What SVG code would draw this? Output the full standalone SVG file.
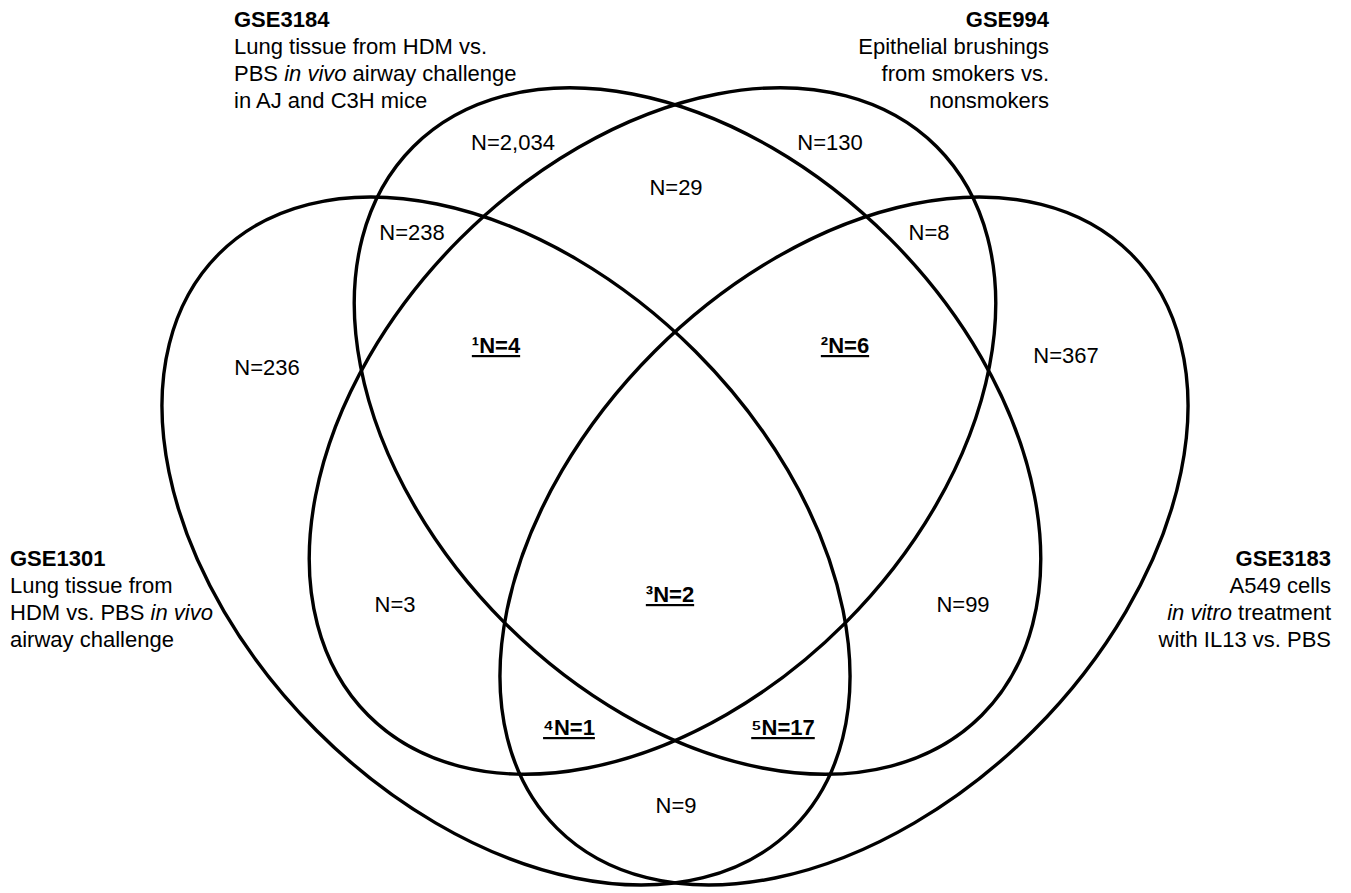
<svg xmlns="http://www.w3.org/2000/svg" width="1351" height="893" viewBox="0 0 1351 893">
<style>
.set{fill:none;stroke:#000;stroke-width:3.4}
text{font-family:"Liberation Sans",Arial,sans-serif;font-size:22px;fill:#000}
.t{font-weight:bold}
.r{text-anchor:end}
.n{text-anchor:middle}
.b{text-anchor:middle;font-weight:bold;text-decoration:underline}
</style>
<rect width="1351" height="893" fill="#fff"/>
<g id="GSE1301">
<ellipse class="set" cx="506" cy="541" rx="406" ry="268" transform="rotate(45 506 541)"/>
<text x="10" y="566" class="t">GSE1301</text>
<text x="10" y="593">Lung tissue from</text>
<text x="10" y="620">HDM vs. PBS <tspan font-style="italic">in vivo</tspan></text>
<text x="10" y="647">airway challenge</text>
</g>
<g id="GSE3183">
<ellipse class="set" cx="844" cy="541" rx="406" ry="268" transform="rotate(-45 844 541)"/>
<text x="1331" y="566" class="t r">GSE3183</text>
<text x="1331" y="593" class="r">A549 cells</text>
<text x="1331" y="620" class="r"><tspan font-style="italic">in vitro</tspan> treatment</text>
<text x="1331" y="647" class="r">with IL13 vs. PBS</text>
</g>
<g id="GSE3184">
<ellipse class="set" cx="697.5" cy="431" rx="402" ry="272" transform="rotate(45 697.5 431)"/>
<text x="234" y="27" class="t">GSE3184</text>
<text x="234" y="54">Lung tissue from HDM vs.</text>
<text x="234" y="81">PBS <tspan font-style="italic">in vivo</tspan> airway challenge</text>
<text x="234" y="108">in AJ and C3H mice</text>
</g>
<g id="GSE994">
<ellipse class="set" cx="652.5" cy="431" rx="402" ry="272" transform="rotate(-45 652.5 431)"/>
<text x="1049" y="27" class="t r">GSE994</text>
<text x="1049" y="54" class="r">Epithelial brushings</text>
<text x="1049" y="81" class="r">from smokers vs.</text>
<text x="1049" y="108" class="r">nonsmokers</text>
</g>
<g id="regions">
<g id="r-2034"><text x="513" y="150" class="n">N=2,034</text></g>
<g id="r-130"><text x="830" y="150" class="n">N=130</text></g>
<g id="r-29"><text x="676" y="195" class="n">N=29</text></g>
<g id="r-238"><text x="412" y="240" class="n">N=238</text></g>
<g id="r-8"><text x="929" y="240" class="n">N=8</text></g>
<g id="r-236"><text x="267" y="375" class="n">N=236</text></g>
<g id="r-1"><text x="496" y="353" class="b">¹N=4</text></g>
<g id="r-2"><text x="845" y="353" class="b">²N=6</text></g>
<g id="r-367"><text x="1066" y="363" class="n">N=367</text></g>
<g id="r-3"><text x="395" y="612" class="n">N=3</text></g>
<g id="r-center"><text x="670" y="602" class="b">³N=2</text></g>
<g id="r-99"><text x="963" y="612" class="n">N=99</text></g>
<g id="r-4"><text x="569" y="735" class="b">⁴N=1</text></g>
<g id="r-5"><text x="783" y="735" class="b">⁵N=17</text></g>
<g id="r-9"><text x="676" y="813" class="n">N=9</text></g>
</g>
</svg>
